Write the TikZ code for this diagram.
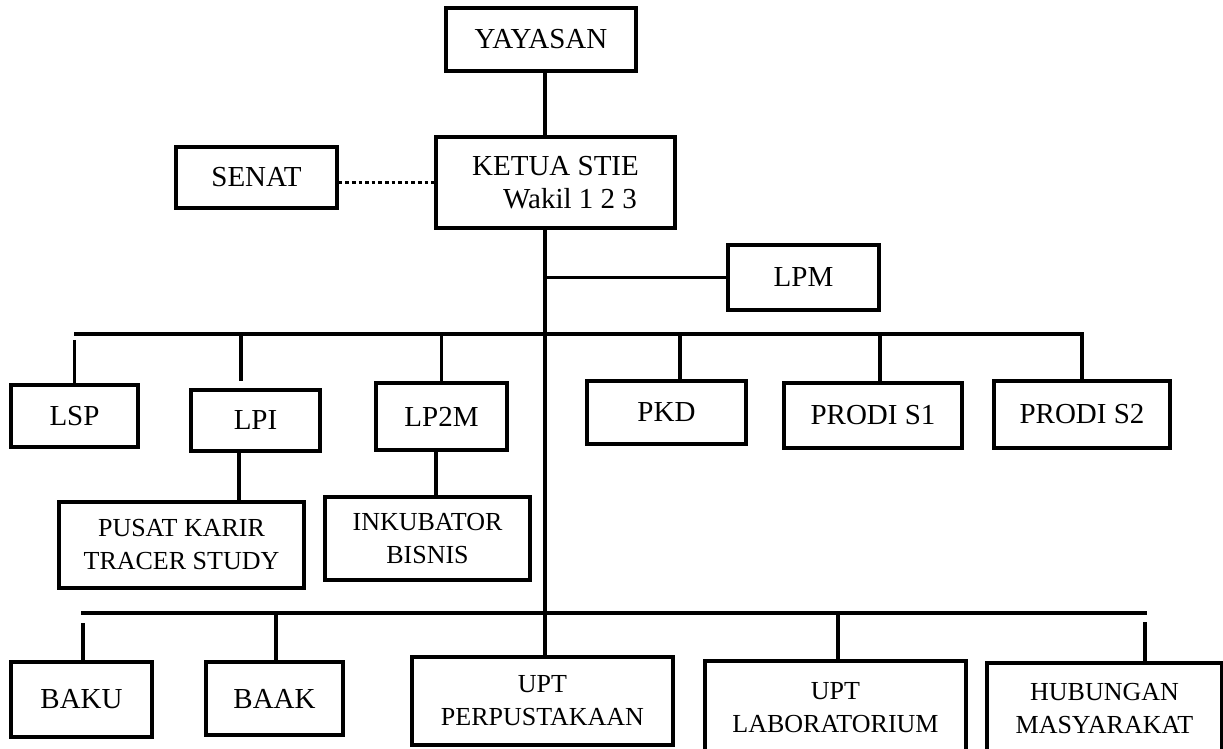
\documentclass[tikz,border=0pt]{standalone}
\usepackage{fontspec}
\setmainfont{Liberation Serif}
\usepackage{tikz}

\begin{document}
\begin{tikzpicture}[x=0.5pt, y=-0.5pt, line width=1.7pt,
		box/.style={draw, inner sep=0pt, align=center, font=\fontsize{14.5}{16.5}\selectfont},
		twoline/.style={font=\fontsize{13}{16.5}\selectfont},
		dotline/.style={dash pattern=on 1.8pt off 1.5pt}]
		%\draw [help lines] (0,0) grid (1223,749);
		\useasboundingbox (0,0) rectangle (1223,749);
		
		\node [box, minimum width=95pt, minimum height=31.5pt] (yay) at (541,39.5) {YAYASAN};
		\node [box, minimum width=119.5pt, minimum height=45.5pt] (ketua) at (555.5,182.5) {KETUA STIE\\\hspace*{14.5pt}Wakil 1 2 3};
		\node [box, minimum width=80.5pt, minimum height=30.5pt] (senat) at (256.5,177.5) {SENAT};
		\node [box, minimum width=75.5pt, minimum height=32.5pt] (lpm) at (803.5,277.5) {LPM};
		
		\node [box, minimum width=63.5pt, minimum height=31pt] (lsp) at (74.5,416) {LSP};
		\node [box, minimum width=64.5pt, minimum height=30.5pt] (lpi) at (255.5,420.5) {LPI};
		\node [box, minimum width=65.5pt, minimum height=33.5pt] (lp2m) at (441.5,416.5) {LP2M};
		\node [box, minimum width=79.5pt, minimum height=31.5pt] (pkd) at (666.5,412.5) {PKD};
		\node [box, minimum width=89pt, minimum height=32.5pt] (s1) at (873,415.5) {PRODI S1};
		\node [box, minimum width=88pt, minimum height=33.5pt] (s2) at (1082,414.5) {PRODI S2};
		
		\node [box, twoline, minimum width=122.5pt, minimum height=43pt] (pusat) at (181.5,545) {PUSAT KARIR\\TRACER STUDY};
		\node [box, twoline, minimum width=102.5pt, minimum height=41.5pt] (inkub) at (427.5,538.5) {INKUBATOR\\BISNIS};
		
		\node [box, minimum width=70.5pt, minimum height=37.5pt] (baku) at (81.5,699.5) {BAKU};
		\node [box, minimum width=68.5pt, minimum height=36.5pt] (baak) at (274.5,698.5) {BAAK};
		\node [box, twoline, minimum width=130.5pt, minimum height=44pt] (perp) at (542.5,701) {UPT\\PERPUSTAKAAN};
		\node [box, twoline, minimum width=130.5pt, minimum height=47pt] (lab) at (835.5,708) {UPT\\LABORATORIUM};
		\node [box, twoline, minimum width=117.5pt, minimum height=46pt] (hub) at (1104.5,709) {HUBUNGAN\\MASYARAKAT};
		
		\coordinate (tk) at (545,0);
		\coordinate (bus1) at (74,334);
		\coordinate (bus2) at (81,613);
		\coordinate (bus2e) at (1147,613);
		
		\draw (yay.south -| tk) -- (ketua.north -| tk);
		\draw [dotline] (senat.east |- ketua.west) -- (ketua.west);
		\draw (ketua.south -| tk) -- (perp.north -| tk);
		\draw (lpm.west -| tk) -- (lpm.west);
		
		\draw (bus1) -| (s2.north);
		\draw [shorten <=3pt] (bus1 -| lsp.north) -- (lsp.north);
		\draw ([xshift=-7.25pt]lpi.north |- bus1) -- ([xshift=-7.25pt,yshift=3.5pt]lpi.north);
		\draw (lp2m.north |- bus1) -- (lp2m.north);
		\draw ([xshift=6.75pt]pkd.north |- bus1) -- ([xshift=6.75pt]pkd.north);
		\draw ([xshift=3.5pt]s1.north |- bus1) -- ([xshift=3.5pt]s1.north);
		\draw ([xshift=-8.25pt]lpi.south) -- ([xshift=-8.25pt]lpi.south |- pusat.north);
		\draw ([xshift=-2.75pt]lp2m.south) -- ([xshift=-2.75pt]lp2m.south |- inkub.north);
		
		\draw (bus2) -- (bus2e);
		\draw [shorten <=5pt] ([xshift=0.75pt]baku.north |- bus2) -- ([xshift=0.75pt]baku.north);
		\draw ([xshift=0.75pt]baak.north |- bus2) -- ([xshift=0.75pt]baak.north);
		\draw ([xshift=1.25pt]lab.north |- bus2) -- ([xshift=1.25pt]lab.north);
		\draw [shorten <=4.5pt] ([xshift=20.25pt]hub.north |- bus2) -- ([xshift=20.25pt]hub.north);
	\end{tikzpicture}
\end{document}
